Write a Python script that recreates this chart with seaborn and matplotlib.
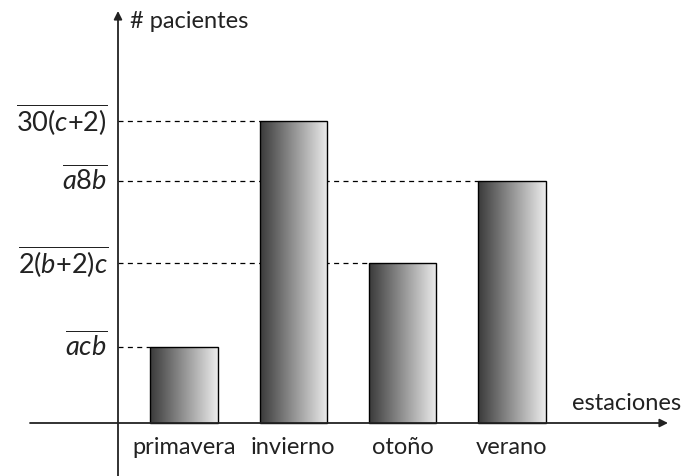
import numpy as np
import pandas as pd
import matplotlib
matplotlib.use("Agg")
import matplotlib.pyplot as plt
import seaborn as sns
from matplotlib.colors import LinearSegmentedColormap

categories = ["primavera", "invierno", "otoño", "verano"]
values = [76, 302, 160, 242]
value_labels = [r"$\overline{acb}$", r"$\overline{30(c{+}2)}$",
                r"$\overline{2(b{+}2)c}$", r"$\overline{a8b}$"]
x_label = "estaciones"
y_label = "# pacientes"

sns.set_theme(style="white")
plt.rcParams['font.family'] = ['Lato', 'DejaVu Sans']
plt.rcParams['mathtext.fontset'] = 'custom'
plt.rcParams['mathtext.rm'] = 'Lato'
plt.rcParams['mathtext.it'] = 'Lato:italic'

df = pd.DataFrame({"estacion": categories, "pacientes": values})

fig = plt.figure(figsize=(6.99, 4.77), dpi=100)
ax = fig.add_axes([0, 0, 1, 1])
sp = 109.3
x0 = 184.0

sns.barplot(data=df, x="estacion", y="pacientes", ax=ax, width=0.615,
            color="white", edgecolor="black", linewidth=1.0, zorder=3)
ax.set_xlim(-x0 / sp, (699 - x0) / sp)
ax.set_ylim(-53, 424)
ax.axis("off")

cmap = LinearSegmentedColormap.from_list("g", ["#3a3a3a", "#ececec"])
grad = np.linspace(0, 1, 256).reshape(1, -1)
for p in ax.patches:
    x, y = p.get_x(), p.get_y()
    w, h = p.get_width(), p.get_height()
    im = ax.imshow(grad, cmap=cmap, aspect="auto",
                   extent=[x, x + w, y, y + h], zorder=2.5)
    im.set_clip_path(p)
    p.set_facecolor("none")
ax.set_xlim(-x0 / sp, (699 - x0) / sp)
ax.set_ylim(-53, 424)

yaxis_x = (118 - x0) / sp
for i, (v, lab) in enumerate(zip(values, value_labels)):
    left = ax.patches[i].get_x()
    ax.plot([yaxis_x, left], [v, v], ls=(0, (4, 3.5)), color="black", lw=0.9, zorder=1)
    ax.text(yaxis_x - 10 / sp, v + 2, lab, ha="right", va="center", fontsize=19.5,
            color="#222222")

ax.annotate("", xy=(yaxis_x, 424 - 12), xytext=(yaxis_x, -60),
            arrowprops=dict(arrowstyle="-|>", color="#222222", lw=1.3,
                            mutation_scale=12, shrinkA=0, shrinkB=0))
ax.annotate("", xy=((668 - x0) / sp, 0), xytext=((30 - x0) / sp, 0),
            arrowprops=dict(arrowstyle="-|>", color="#222222", lw=1.3,
                            mutation_scale=12, shrinkA=0, shrinkB=0))

for i, c in enumerate(categories):
    ax.text(i, -24, c, ha="center", va="center", fontsize=17, color="#222222")

ax.text((130 - x0) / sp, 424 - 22, y_label, ha="left", va="center",
        fontsize=17, color="#222222")
ax.text((572 - x0) / sp, 424 - 404, x_label, ha="left", va="center",
        fontsize=17, color="#222222")

fig.savefig("out.png", dpi=100)
